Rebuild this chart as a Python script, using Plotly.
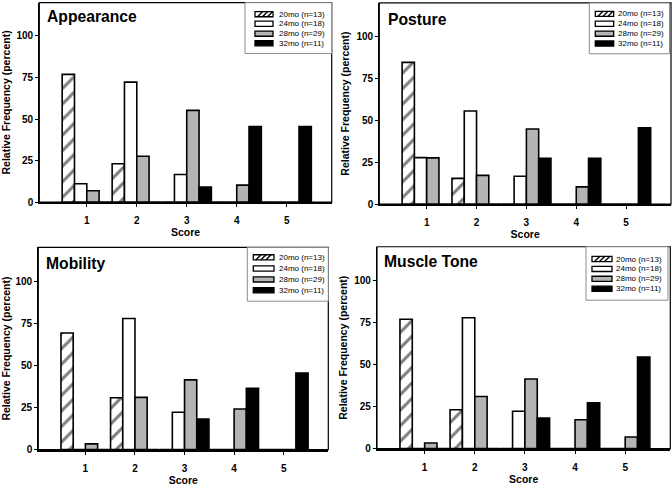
import plotly.graph_objects as go

# ---------------- data ----------------
scores = [1, 2, 3, 4, 5]
score_ticks = ["1", "2", "3", "4", "5"]
y_ticks = [0, 25, 50, 75, 100]
series_names = ["20mo (n=13)", "24mo (n=18)", "28mo (n=29)", "32mo (n=11)"]
panel_titles = ["Appearance", "Posture", "Mobility", "Muscle Tone"]

appearance_20mo = [76.9, 23.1, 0, 0, 0]
appearance_24mo = [11.1, 72.2, 16.7, 0, 0]
appearance_28mo = [6.9, 27.6, 55.2, 10.3, 0]
appearance_32mo = [0, 0, 9.1, 45.5, 45.5]

posture_20mo = [84.6, 15.4, 0, 0, 0]
posture_24mo = [27.8, 55.6, 16.7, 0, 0]
posture_28mo = [27.6, 17.2, 44.8, 10.3, 0]
posture_32mo = [0, 0, 27.3, 27.3, 45.5]

mobility_20mo = [69.2, 30.8, 0, 0, 0]
mobility_24mo = [0, 77.8, 22.2, 0, 0]
mobility_28mo = [3.4, 31.0, 41.4, 24.1, 0]
mobility_32mo = [0, 0, 18.2, 36.4, 45.5]

muscle_20mo = [76.9, 23.1, 0, 0, 0]
muscle_24mo = [0, 77.8, 22.2, 0, 0]
muscle_28mo = [3.4, 31.0, 41.4, 17.2, 6.9]
muscle_32mo = [0, 0, 18.2, 27.3, 54.5]

panels_data = [
    [appearance_20mo, appearance_24mo, appearance_28mo, appearance_32mo],
    [posture_20mo, posture_24mo, posture_28mo, posture_32mo],
    [mobility_20mo, mobility_24mo, mobility_28mo, mobility_32mo],
    [muscle_20mo, muscle_24mo, muscle_28mo, muscle_32mo],
]

# ---------------- layout helpers ----------------
W, H = 672, 489
FONT = "Liberation Sans, Arial, Helvetica, sans-serif"
GRAY = "#b4b4b4"


def px(x):
    return x / W


def py(y):
    return 1 - y / H


# frame (left, top, right, bottom) in pixels for each panel
frames = [
    (39.3, 2.7, 331.7, 204.3),
    (379.3, 3.0, 671.0, 206.3),
    (38.3, 250.0, 328.3, 454.3),
    (377.0, 249.3, 670.3, 453.3),
]
# title (left, cap-top)
title_pos = [(46, 10), (386.7, 12.7), (45, 260), (382.7, 257.7)]
# legend geometry: box (l, t, r, b), swatch (l, r), text left, row centres
legend_geo = [
    dict(box=(245, 2.7, 331.7, 54), sw=(255, 273), tx=276.5, rows=[14.3, 24, 34, 43.7]),
    dict(box=(589.3, 3.0, 669.5, 54.3), sw=(595.3, 613.7), tx=615.5, rows=[14, 24, 34, 44]),
    dict(box=(247.3, 250, 328.3, 304.3), sw=(253.3, 274), tx=276.5, rows=[260, 271.3, 282.3, 293.3]),
    dict(box=(586, 249.3, 668, 303.3), sw=(592, 612), tx=614.3, rows=[261.7, 271.7, 281.7, 291.7]),
]

fills = ["white", "white", GRAY, "black"]

fig = go.Figure()
layout_axes = {}
shapes = []
annotations = []

for i, (vals_list, title) in enumerate(zip(panels_data, panel_titles)):
    n = "" if i == 0 else str(i + 1)
    xa, ya = "x" + n, "y" + n
    l, t, r, b = frames[i]
    for k, (vals, name) in enumerate(zip(vals_list, series_names)):
        marker = dict(color=fills[k], line=dict(color="black", width=1.6))
        if k == 0:
            marker["pattern"] = dict(shape="/", fgcolor="black", bgcolor="white",
                                     size=11, solidity=0.27)
        fig.add_trace(go.Bar(x=scores, y=vals, name=name, xaxis=xa, yaxis=ya,
                             marker=marker, showlegend=False, offsetgroup=str(k)))

    layout_axes["xaxis" + n] = dict(
        domain=[px(l), px(r)], anchor=ya, range=[0.05, 5.9],
        tickvals=scores, ticktext=score_ticks, ticks="outside", ticklen=3,
        tickwidth=1, tickcolor="black", showline=True, linewidth=2, linecolor="black",
        showgrid=False, zeroline=False, ticklabelstandoff=5,
        tickfont=dict(family=FONT, size=10, color="black", weight="bold"),
        title=dict(text="Score", standoff=1,
                   font=dict(family=FONT, size=10.5, color="black", weight="bold")),
    )
    layout_axes["yaxis" + n] = dict(
        domain=[py(b), py(t)], anchor=xa, range=[0, 120],
        tickvals=y_ticks, ticks="outside", ticklen=3, tickwidth=1, tickcolor="black",
        showline=True, linewidth=1.2, linecolor="black", showgrid=False, zeroline=False,
        tickfont=dict(family=FONT, size=10, color="black", weight="bold"),
        title=dict(text="Relative Frequency (percent)", standoff=4,
                   font=dict(family=FONT, size=10.5, color="black", weight="bold")),
    )
    # frame top/right
    shapes.append(dict(type="rect", xref="paper", yref="paper",
                       x0=px(l), x1=px(r), y0=py(b), y1=py(t),
                       line=dict(color="black", width=1.2), layer="above"))
    # panel title
    tl, tt = title_pos[i]
    annotations.append(dict(text=title, xref="paper", yref="paper", x=px(tl - 1),
                            y=py(tt - 4), xanchor="left", yanchor="top", showarrow=False,
                            font=dict(family=FONT, size=15.7, color="black", weight="bold")))
    # legend
    g = legend_geo[i]
    bl, bt, br, bb = g["box"]
    shapes.append(dict(type="rect", xref="paper", yref="paper",
                       x0=px(bl), x1=px(br), y0=py(bb), y1=py(bt),
                       fillcolor="white", line=dict(color="#8c8c8c", width=1), layer="above"))
    s0, s1 = g["sw"]
    for k, (rc, name) in enumerate(zip(g["rows"], series_names)):
        shapes.append(dict(type="rect", xref="paper", yref="paper",
                           x0=px(s0), x1=px(s1), y0=py(rc + 2.6), y1=py(rc - 2.6),
                           fillcolor=fills[k], line=dict(color="black", width=1.3),
                           layer="above"))
        if k == 0:
            for off in [2.5, 7.5, 12.5]:
                xs = s0 + off
                if xs + 5 <= s1:
                    shapes.append(dict(type="line", xref="paper", yref="paper",
                                       x0=px(xs), x1=px(xs + 5.2), y0=py(rc + 2.6),
                                       y1=py(rc - 2.6),
                                       line=dict(color="black", width=1.4), layer="above"))
        annotations.append(dict(text=name, xref="paper", yref="paper", x=px(g["tx"]),
                                y=py(rc), xanchor="left", yanchor="middle",
                                showarrow=False,
                                font=dict(family=FONT, size=8, color="black")))

fig.update_layout(
    width=W, height=H, margin=dict(l=0, r=0, t=0, b=0),
    paper_bgcolor="white", plot_bgcolor="white",
    barmode="group", bargap=0.015, bargroupgap=0,
    shapes=shapes, annotations=annotations, showlegend=False,
    font=dict(family=FONT, color="black"),
    **layout_axes,
)

fig.write_html("out.html", config={"displayModeBar": False},
               post_script="document.body.style.margin='0px';")
